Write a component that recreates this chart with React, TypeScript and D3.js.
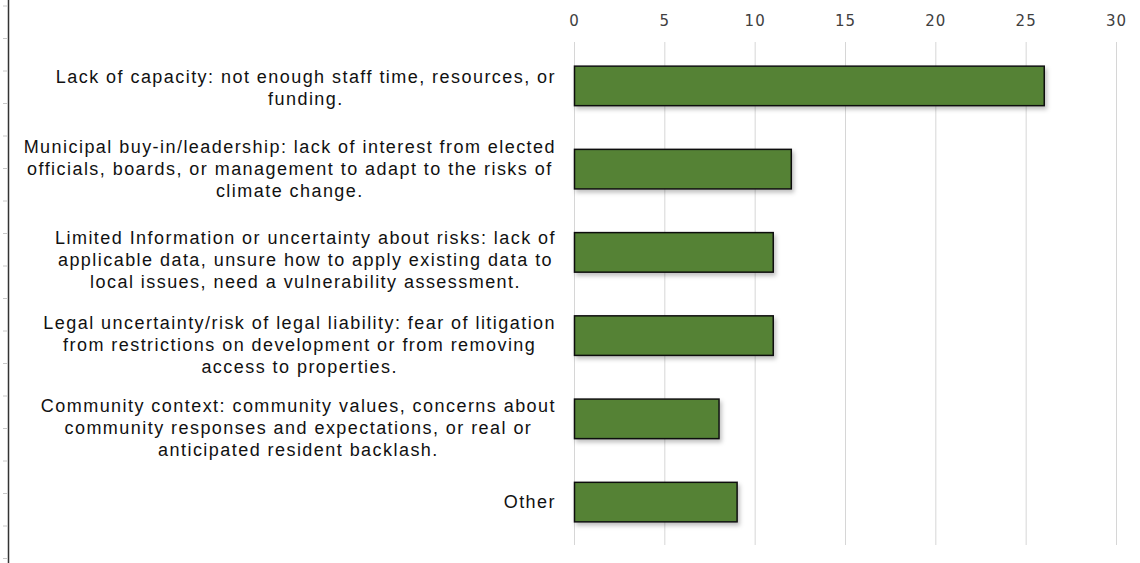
import React, { useEffect, useRef } from "react";
import * as d3 from "d3";

const categories: string[][] = [
  ["Lack of capacity: not enough staff time, resources, or", "funding."],
  ["Municipal buy-in/leadership: lack of interest from elected", "officials, boards, or management to adapt to the risks of", "climate change."],
  ["Limited Information or uncertainty about risks: lack of", "applicable data, unsure how to apply existing data to", "local issues, need a vulnerability assessment."],
  ["Legal uncertainty/risk of legal liability: fear of litigation", "from restrictions on development or from removing", "access to properties."],
  ["Community context: community values, concerns about", "community responses and expectations, or real or", "anticipated resident backlash."],
  ["Other"],
];
const values: number[] = [26, 12, 11, 11, 8, 9];
const xTicks: number[] = [0, 5, 10, 15, 20, 25, 30];

// label block vertical nudges (layout, as in the source chart)
const labelNudge: number[] = [2, 0, 8, 9, 9, 0];

const W = 1140;
const H = 563;

export default function App() {
  const ref = useRef<SVGSVGElement | null>(null);

  useEffect(() => {
    const svg = d3.select(ref.current);
    svg.selectAll("*").remove();

    const defs = svg.append("defs");
    const f = defs.append("filter").attr("id", "shadow").attr("x", "-5%").attr("y", "-20%").attr("width", "115%").attr("height", "160%");
    f.append("feDropShadow").attr("dx", 2).attr("dy", 3).attr("stdDeviation", 2).attr("flood-color", "#000").attr("flood-opacity", 0.25);

    const x = d3.scaleLinear().domain([0, 30]).range([574.5, 1116.5]);
    const y = d3.scaleBand<number>().domain(d3.range(categories.length)).range([44.5, 543.5]).paddingInner(0.525).paddingOuter(0.26);

    // left frame line and faint ticks
    svg.append("line").attr("x1", 8.5).attr("x2", 8.5).attr("y1", 0).attr("y2", H).attr("stroke", "#333").attr("stroke-width", 1.5);
    svg.append("g").selectAll("line").data(d3.range(6, H, 32.5)).join("line")
      .attr("x1", 3).attr("x2", 7).attr("y1", (d) => d).attr("y2", (d) => d)
      .attr("stroke", "#c8c8c8").attr("stroke-width", 1);

    // gridlines
    svg.append("g").selectAll("line").data(xTicks).join("line")
      .attr("x1", (d) => x(d)).attr("x2", (d) => x(d))
      .attr("y1", 42).attr("y2", 545)
      .attr("stroke", "#d6d6d6").attr("stroke-width", 1);

    // tick labels
    svg.append("g").selectAll("text").data(xTicks).join("text")
      .attr("x", (d) => x(d)).attr("y", 26)
      .attr("text-anchor", "middle")
      .attr("font-family", "'DejaVu Sans', sans-serif")
      .attr("font-size", 15)
      .attr("letter-spacing", 1)
      .attr("fill", "#404040")
      .text((d) => String(d));

    // bars
    svg.append("g").selectAll("rect").data(values).join("rect")
      .attr("x", x(0))
      .attr("y", (_d, i) => y(i)!)
      .attr("width", (d) => x(d) - x(0))
      .attr("height", y.bandwidth())
      .attr("fill", "#548235")
      .attr("stroke", "#111")
      .attr("stroke-width", 1.5)
      .attr("filter", "url(#shadow)");

    // category labels
    const lineH = 22;
    const rightEdge = 556;
    categories.forEach((lines, i) => {
      const cy = y(i)! + y.bandwidth() / 2 + labelNudge[i];
      const g = svg.append("g");
      const texts = g.selectAll("text").data(lines).join("text")
        .attr("text-anchor", "middle")
        .attr("font-family", "'Liberation Sans', Arial, sans-serif")
        .attr("font-size", 18)
        .attr("letter-spacing", 1.45)
        .attr("fill", "#111")
        .attr("y", (_d, j) => cy + (j - (lines.length - 1) / 2) * lineH + 6)
        .text((d) => d);
      let maxW = 0;
      texts.each(function () {
        const w = (this as SVGTextElement).getComputedTextLength();
        if (w > maxW) maxW = w;
      });
      texts.attr("x", rightEdge - maxW / 2);
    });
  }, []);

  return (
    <svg ref={ref} width={W} height={H} style={{ position: "absolute", left: 0, top: 0, background: "#fff" }} />
  );
}
